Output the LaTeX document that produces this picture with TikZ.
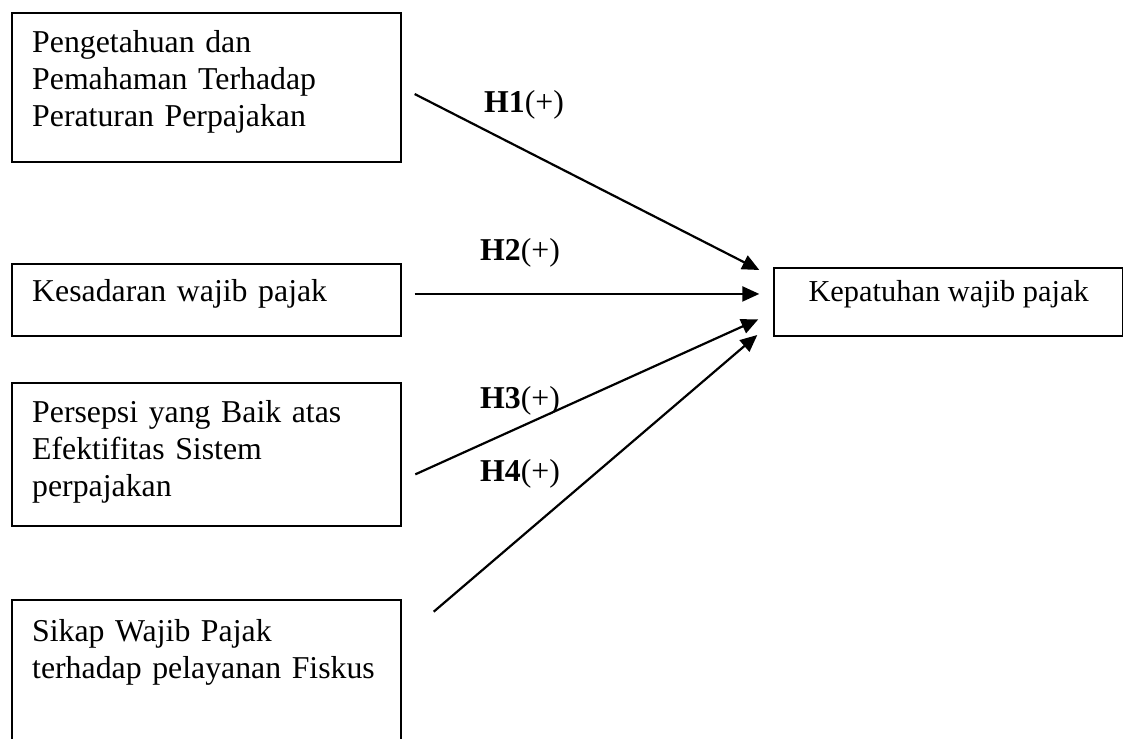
\documentclass[tikz,border=0pt]{standalone}
\usepackage{fontspec}
\setmainfont{Liberation Serif}
\usepackage{tikz}
\usetikzlibrary{shapes,arrows.meta}
\tikzstyle{line} = [draw, line width=2.2pt, -{Triangle[length=17pt,width=15pt]}]
\tikzstyle{box} = [draw, line width=2pt, anchor=north west, align=left, inner xsep=20.5pt, inner ysep=0pt, text width=347.8pt, font=\fontsize{31.8}{37}\selectfont]
\tikzstyle{hyp} = [anchor=base west, inner sep=0pt, font=\fontsize{31.8}{37}\selectfont]

\begin{document}
\begin{tikzpicture}[x=1pt, y=1pt]
            \clip (0,0) rectangle (1123,-738);
                \node [box, text height=39.4pt, text depth=109.3pt] (pengetahuan) at (10.7,-12.3)
                    {Pengetahuan dan\\Pemahaman Terhadap\\Peraturan Perpajakan};
                \node [box, text height=37.3pt, text depth=35pt] (kesadaran) at (10.7,-262.7)
                    {Kesadaran wajib pajak};
                \node [box, text height=40pt, text depth=103.3pt] (persepsi) at (10.7,-381.7)
                    {Persepsi yang Baik atas\\Efektifitas Sistem\\perpajakan};
                \node [box, text height=40.7pt, text depth=160pt] (sikap) at (10.7,-599.3)
                    {Sikap Wajib Pajak\\terhadap pelayanan Fiskus};
                \node [draw, line width=2pt, anchor=north west, inner sep=0pt, minimum width=348.7pt,
                    text height=33pt, text depth=35pt, font=\fontsize{30.4}{37}\selectfont] (kepatuhan) at (773.3,-267)
                    {Kepatuhan wajib pajak};
                \node [hyp] (h1) at (484,-113) {\textbf{H1}(+)};
                \node [hyp] (h2) at (480,-260) {\textbf{H2}(+)};
                \node [hyp] (h3) at (480,-408) {\textbf{H3}(+)};
                \node [hyp] (h4) at (480,-481.7) {\textbf{H4}(+)};
                \path [line] ([xshift=13.2pt,yshift=-6.4pt]pengetahuan.east) -- ([xshift=-14pt,yshift=32pt]kepatuhan.west);
                \path [line] ([xshift=13.2pt,yshift=5.9pt]kesadaran.east) -- ([xshift=-14pt,yshift=5.9pt]kesadaran.east -| kepatuhan.west);
                \path [line] ([xshift=13.8pt,yshift=-20pt]persepsi.east) -- ([xshift=-15pt,yshift=-17.3pt]kepatuhan.west);
                \path [line] ([xshift=32.2pt,yshift=-12.4pt]sikap.north east) -- ([xshift=-16pt,yshift=-33pt]kepatuhan.west);
            \end{tikzpicture}
\end{document}
